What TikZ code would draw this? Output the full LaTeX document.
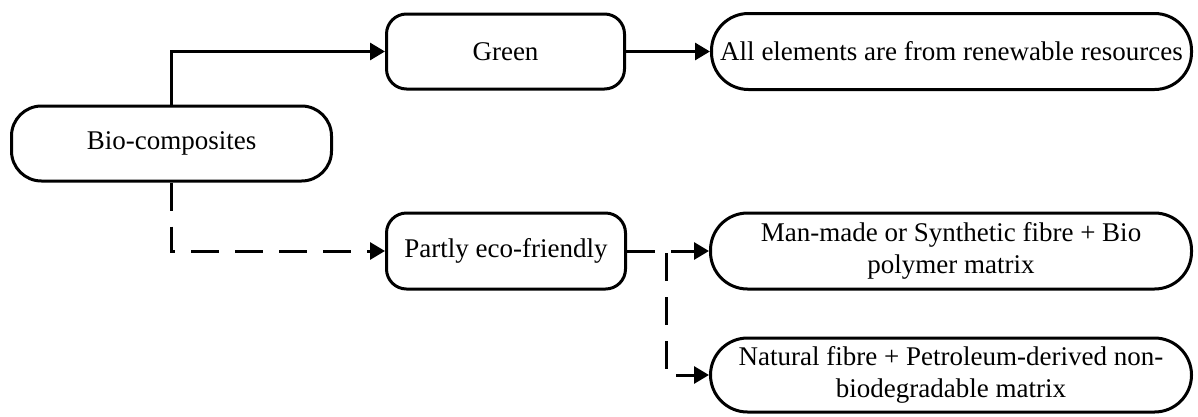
\documentclass[tikz,border=0pt]{standalone}
\usepackage{fontspec}
\setmainfont{Liberation Serif}
\usetikzlibrary{arrows.meta}
\begin{document}
\begin{tikzpicture}[x=1pt,y=-1pt,
  box/.style={draw=black, line width=3pt, fill=white, inner sep=0pt, align=center,
    font=\fontsize{27}{32.5}\selectfont},
  sq/.style={box, rounded corners=20pt},
  bigbox/.style={box, rounded corners=30pt},
  pill/.style={box, rounded corners=37pt},
  conn/.style={line width=3pt, -{Triangle[length=15pt,width=17pt]}},
  dconn/.style={conn, dash pattern=on 28pt off 16pt}]
\useasboundingbox (0,0) rectangle (1198,416);
\node[bigbox, minimum width=320pt, minimum height=75pt] (bio) at (171.5,143.5) {Bio-composites};
\node[sq, minimum width=238pt, minimum height=75pt] (green) at (505.5,51.5) {Green};
\node[pill, minimum width=480pt, minimum height=76pt] (all) at (951.5,51.5) {All elements are from renewable resources};
\node[sq, minimum width=239pt, minimum height=76pt] (partly) at (506,251) {Partly eco-friendly};
\node[pill, minimum width=481pt, minimum height=76pt] (man) at (951,251) {Man-made or Synthetic fibre + Bio\\polymer matrix};
\node[pill, minimum width=481pt, minimum height=74pt] (nat) at (951,375) {Natural fibre + Petroleum-derived non-\\biodegradable matrix};
\coordinate (j) at (666,253);
\draw[conn] (bio.north) |- (green.west);
\draw[conn] (green.east) -- (all.west);
\draw[dconn] (bio.south) |- (partly.west);
\draw[dconn] (partly.east) -- (man.west |- partly.east);
\draw[dconn] (j) |- (nat.west);
\end{tikzpicture}
\end{document}
